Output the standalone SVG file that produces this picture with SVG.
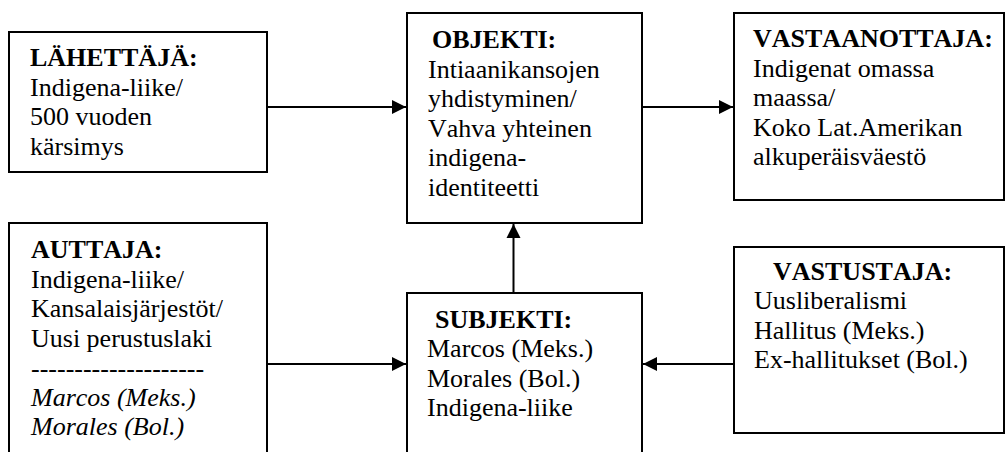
<svg xmlns="http://www.w3.org/2000/svg" width="1006" height="452" viewBox="0 0 1006 452">
  <style>
    .box { fill: #ffffff; stroke: #000000; stroke-width: 2; }
    .link { fill: none; stroke: #000000; stroke-width: 2; }
    text { font-family: "Liberation Serif", "Times New Roman", serif; font-size: 26px; fill: #000000; font-kerning: none; }
    .head { font-weight: bold; }
    .it { font-style: italic; }
  </style>
  <defs>
    <marker id="arrow" markerUnits="userSpaceOnUse" markerWidth="16" markerHeight="16" refX="15" refY="8" orient="auto">
      <path d="M1,1 L15,8 L1,15 Z" fill="#000000"/>
    </marker>
  </defs>
  <rect width="1006" height="452" fill="#ffffff"/>

  <!-- connectors -->
  <g id="connectors">
    <line class="link" x1="267" y1="107" x2="406" y2="107" marker-end="url(#arrow)"/>
    <line class="link" x1="642" y1="107" x2="733" y2="107" marker-end="url(#arrow)"/>
    <line class="link" x1="513.5" y1="293" x2="513.5" y2="224" marker-end="url(#arrow)"/>
    <line class="link" x1="267" y1="364" x2="406" y2="364" marker-end="url(#arrow)"/>
    <line class="link" x1="734" y1="364" x2="643" y2="364" marker-end="url(#arrow)"/>
  </g>

  <g id="lahettaja">
    <rect class="box" x="9" y="32" width="258" height="140"/>
    <text class="head" x="30" y="66">LÄHETTÄJÄ:</text>
    <text x="30" y="95.5">Indigena-liike/</text>
    <text x="30" y="125">500 vuoden</text>
    <text x="30" y="154.5">kärsimys</text>
  </g>

  <g id="objekti">
    <rect class="box" x="407" y="13" width="235" height="210"/>
    <text class="head" x="432" y="48">OBJEKTI:</text>
    <text x="428" y="77.5">Intiaanikansojen</text>
    <text x="428" y="107">yhdistyminen/</text>
    <text x="428" y="136.5">Vahva yhteinen</text>
    <text x="428" y="166">indigena-</text>
    <text x="428" y="195.5">identiteetti</text>
  </g>

  <g id="vastaanottaja">
    <rect class="box" x="734" y="13" width="270" height="187"/>
    <text class="head" x="753" y="47">VASTAANOTTAJA:</text>
    <text x="753" y="76.5">Indigenat omassa</text>
    <text x="753" y="106">maassa/</text>
    <text x="753" y="135.5">Koko Lat.Amerikan</text>
    <text x="753" y="165">alkuperäisväestö</text>
  </g>

  <g id="auttaja">
    <rect class="box" x="9" y="223" width="258" height="240"/>
    <text class="head" x="31" y="258">AUTTAJA:</text>
    <text x="31" y="287.5">Indigena-liike/</text>
    <text x="31" y="317">Kansalaisjärjestöt/</text>
    <text x="31" y="346.5">Uusi perustuslaki</text>
    <text x="31" y="377">--------------------</text>
    <text class="it" x="31" y="405.5">Marcos (Meks.)</text>
    <text class="it" x="31" y="435">Morales (Bol.)</text>
  </g>

  <g id="subjekti">
    <rect class="box" x="407" y="293" width="235" height="170"/>
    <text class="head" x="435" y="328">SUBJEKTI:</text>
    <text x="427" y="357">Marcos (Meks.)</text>
    <text x="427" y="386.5">Morales (Bol.)</text>
    <text x="427" y="416">Indigena-liike</text>
  </g>

  <g id="vastustaja">
    <rect class="box" x="734" y="247" width="270" height="186"/>
    <text class="head" x="773" y="280">VASTUSTAJA:</text>
    <text x="754" y="309">Uusliberalismi</text>
    <text x="754" y="338.5">Hallitus (Meks.)</text>
    <text x="754" y="368">Ex-hallitukset (Bol.)</text>
  </g>
</svg>
